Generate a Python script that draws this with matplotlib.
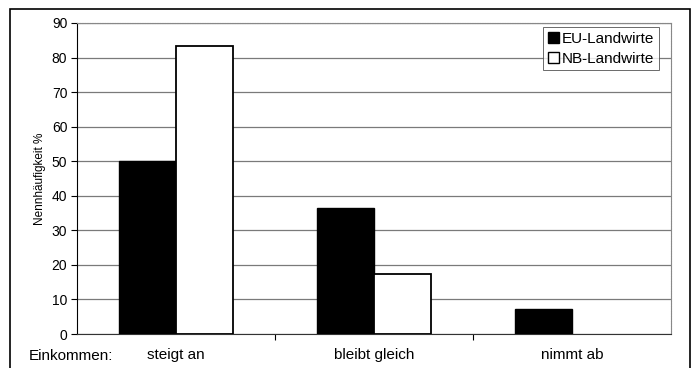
import matplotlib
matplotlib.use('Agg')
import matplotlib.pyplot as plt
import matplotlib.patches as mpatches
import numpy as np

plt.rcParams['font.family'] = ['Liberation Sans', 'DejaVu Sans']

# data
categories = ['steigt an', 'bleibt gleich', 'nimmt ab']
eu_values = [50, 36.5, 7.2]
nb_values = [83.2, 17.5, 0]
series_labels = ['EU-Landwirte', 'NB-Landwirte']

fig = plt.figure(figsize=(6.93, 3.68), dpi=100)
ax = fig.add_axes([77/693, 1 - 334/368, 594/693, 311/368])

x = np.arange(len(categories))
w = 0.288
ax.bar(x - w/2, eu_values, w, color='black', edgecolor='black', linewidth=1.0,
       label=series_labels[0], zorder=3)
# zero-height bars get no outline
nb_lw = [1.3 if v > 0 else 0 for v in nb_values]
ax.bar(x + w/2, nb_values, w, color='white', edgecolor='black', linewidth=nb_lw,
       label=series_labels[1], zorder=3)

ax.set_xlim(-0.5, 2.5)
ax.set_ylim(0, 90)
ax.set_yticks(np.arange(0, 91, 10))
ax.tick_params(axis='y', labelsize=10, length=4, width=0.8, pad=3)
ax.grid(axis='y', color='#7a7a7a', linewidth=0.9, zorder=0)

# category labels between ticks at group boundaries
ax.set_xticks([0.5, 1.5])
ax.set_xticklabels([])
ax.tick_params(axis='x', length=4, width=0.8, direction='out')
for xi, lab in zip(x, categories):
    ax.text(xi, -6.2, lab, ha='center', va='center', fontsize=11)
fig.text(29/693, 1 - 356/368, 'Einkommen:', ha='left', va='center', fontsize=11)

ax.spines['left'].set_color('black')
ax.spines['bottom'].set_color('#333333')
ax.spines['top'].set_color('#888888')
ax.spines['right'].set_color('#888888')
ax.spines['top'].set_linestyle((0, (1, 0.5)))
ax.spines['right'].set_linestyle((0, (1, 0.5)))

ax.set_ylabel('Nennhäufigkeit %', fontsize=8.5, labelpad=4)

leg = ax.legend(loc='upper right', bbox_to_anchor=((659 - 77) / 594, (334 - 27) / 311),
                fontsize=11, frameon=True, fancybox=False, edgecolor='#444444',
                handlelength=0.75, handleheight=0.75, handletextpad=0.2,
                borderpad=0.3, labelspacing=0.4, borderaxespad=0.0)
leg.get_frame().set_linewidth(0.7)
for h in leg.legend_handles:
    h.set_edgecolor('black')
    h.set_linewidth(1.0)

# outer frame
fig.patches.append(mpatches.Rectangle((10/693, -0.05), 680/693, 1.05 - 9/368,
                                      transform=fig.transFigure, fill=False,
                                      edgecolor='black', linewidth=1.2))

fig.savefig('out.png', dpi=100)
